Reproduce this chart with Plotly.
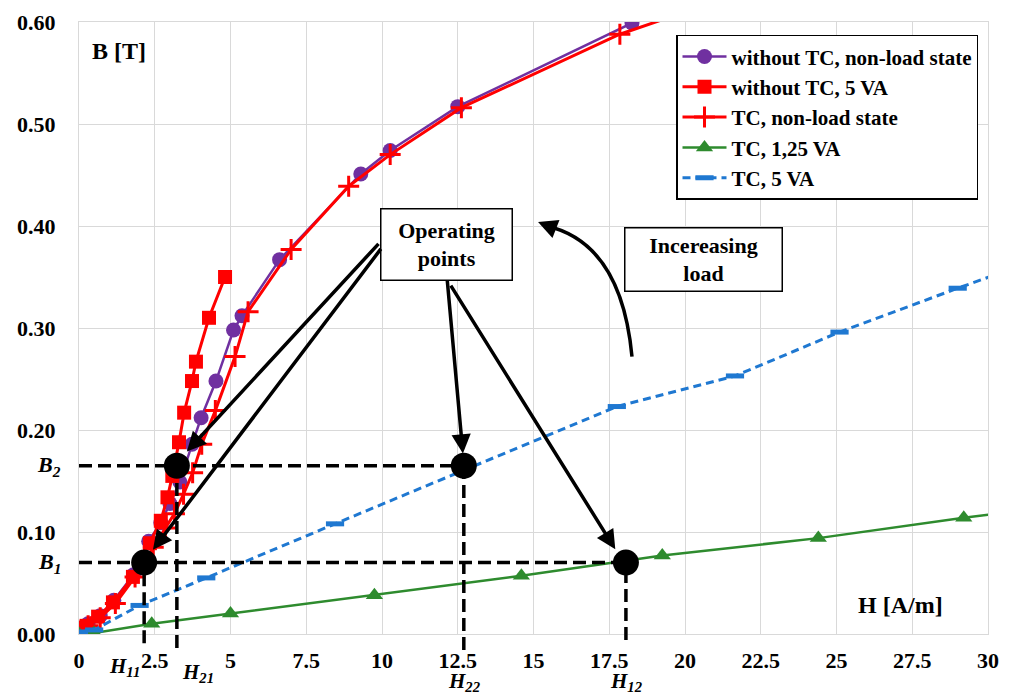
import plotly.graph_objects as go

# ---------------- data ----------------
H_noTC_noload = [0, 0.3, 0.7, 1.15, 1.8, 2.3, 2.7, 3.0, 3.33, 3.73, 4.03, 4.52, 5.1, 5.38, 6.62, 9.3, 10.27, 12.5, 18.25]
B_noTC_noload = [0.003, 0.010, 0.018, 0.033, 0.058, 0.091, 0.109, 0.128, 0.149, 0.186, 0.212, 0.248, 0.298, 0.312, 0.367, 0.451, 0.474, 0.517, 0.599]

H_noTC_5VA = [0, 0.25, 0.63, 1.12, 1.78, 2.34, 2.7, 2.92, 3.08, 3.3, 3.47, 3.73, 3.86, 4.29, 4.82]
B_noTC_5VA = [0.004, 0.008, 0.017, 0.031, 0.056, 0.089, 0.111, 0.134, 0.155, 0.188, 0.217, 0.248, 0.267, 0.31, 0.35]

H_TC_noload = [0, 0.3, 0.7, 1.2, 1.85, 2.45, 2.85, 3.15, 3.45, 3.75, 4.05, 4.5, 5.15, 5.58, 7.0, 8.9, 10.27, 12.62, 17.85, 21.0]
B_TC_noload = [0.003, 0.008, 0.016, 0.030, 0.056, 0.085, 0.104, 0.118, 0.137, 0.158, 0.186, 0.219, 0.272, 0.316, 0.377, 0.439, 0.470, 0.516, 0.588, 0.620]

H_TC_125VA = [0, 0.5, 2.4, 5.0, 9.75, 14.6, 19.25, 24.4, 29.2, 30.6]
B_TC_125VA = [0.0, 0.001, 0.010, 0.020, 0.038, 0.057, 0.077, 0.094, 0.114, 0.119]

H_TC_5VA = [0, 0.5, 2.0, 4.2, 8.45, 17.75, 21.65, 25.1, 29.0, 30.6]
B_TC_5VA = [0.002, 0.004, 0.028, 0.055, 0.108, 0.223, 0.253, 0.296, 0.339, 0.356]

# operating points: H11, H21, H22, H12
H_op = [2.15, 3.23, 12.7, 18.05]
B_op = [0.07, 0.165, 0.165, 0.07]
H_op_labels = ["H<sub>11</sub>", "H<sub>21</sub>", "H<sub>22</sub>", "H<sub>12</sub>"]
B_levels = [0.07, 0.165]
B_level_labels = ["B<sub>1</sub>", "B<sub>2</sub>"]

X_TICKS = [0, 2.5, 5, 7.5, 10, 12.5, 15, 17.5, 20, 22.5, 25, 27.5, 30]
X_TICK_TEXT = ["0", "2.5", "5", "7.5", "10", "12.5", "15", "17.5", "20", "22.5", "25", "27.5", "30"]
Y_TICKS = [0, 0.1, 0.2, 0.3, 0.4, 0.5, 0.6]
Y_TICK_TEXT = ["0.00", "0.10", "0.20", "0.30", "0.40", "0.50", "0.60"]

X_MAX = 30
Y_MAX = 0.6

SERIF = "Liberation Serif"
GRID = "#d9d9d9"

fig = go.Figure()

fig.add_trace(go.Scatter(
    x=H_noTC_noload, y=B_noTC_noload, name="without TC, non-load state",
    mode="lines+markers", line=dict(color="#7030A0", width=2.5),
    marker=dict(symbol="circle", size=15, color="#7030A0")))
fig.add_trace(go.Scatter(
    x=H_noTC_5VA, y=B_noTC_5VA, name="without TC, 5 VA",
    mode="lines+markers", line=dict(color="#FF0000", width=3),
    marker=dict(symbol="square", size=14, color="#FF0000")))
fig.add_trace(go.Scatter(
    x=H_TC_noload, y=B_TC_noload, name="TC, non-load state",
    mode="lines+markers", line=dict(color="#FF0000", width=3),
    marker=dict(symbol="cross-thin", size=15, color="#FF0000",
                line=dict(color="#FF0000", width=3))))
fig.add_trace(go.Scatter(
    x=H_TC_125VA, y=B_TC_125VA, name="TC, 1,25 VA",
    mode="lines+markers", line=dict(color="#2E8B2E", width=2.5),
    marker=dict(symbol="triangle-up", size=15, color="#2E8B2E")))
fig.add_trace(go.Scatter(
    x=H_TC_5VA, y=B_TC_5VA, name="TC, 5 VA",
    mode="lines+markers", line=dict(color="#1F78D1", width=3, dash="8px,5px"),
    marker=dict(symbol="line-ew", size=13, color="#1F78D1",
                line=dict(color="#1F78D1", width=5))))

shapes = []
dash_line = dict(color="black", width=3.5, dash="13px,6px")
# horizontal dashed lines from B axis to the far operating point of each level
for b in B_levels:
    h_far = max(h for h, bb in zip(H_op, B_op) if bb == b)
    shapes.append(dict(type="line", xref="x", yref="y", x0=0, x1=h_far, y0=b, y1=b,
                       line=dash_line, layer="above"))
# vertical dashed lines down below the H axis
v_bottom = [-0.015, -0.023, -0.026, -0.01]
for h, b, vb in zip(H_op, B_op, v_bottom):
    shapes.append(dict(type="line", xref="x", yref="paper", x0=h, x1=h,
                       y0=vb, y1=b / Y_MAX, line=dash_line, layer="above"))
# curved "increasing load" arrow body
shapes.append(dict(type="path", xref="x", yref="y",
                   path="M 18.25,0.272 Q 17.9,0.3826 15.45,0.4",
                   line=dict(color="black", width=3.5), layer="above"))

fig.add_trace(go.Scatter(
    x=H_op, y=B_op, mode="markers", showlegend=False, cliponaxis=False,
    marker=dict(symbol="circle", size=26, color="black")))

ann = []
txt_font = dict(family=SERIF, size=22, color="black", weight="bold")
ann.append(dict(xref="paper", yref="paper", x=0.012, y=0.952, xanchor="left", yanchor="middle",
                text="B [T]", showarrow=False, font=dict(family=SERIF, size=24, color="black", weight="bold")))
ann.append(dict(xref="x", yref="y", x=27.1, y=0.028, xanchor="center", yanchor="middle",
                text="H [A/m]", showarrow=False, font=dict(family=SERIF, size=24, color="black", weight="bold")))
ann.append(dict(xref="x", yref="y", x=12.12, y=0.382, xanchor="center", yanchor="middle",
                text="Operating<br>points", showarrow=False, font=txt_font,
                bordercolor="black", borderwidth=1.5, bgcolor="white",
                width=126, height=66, borderpad=2))
ann.append(dict(xref="x", yref="y", x=20.6, y=0.367, xanchor="center", yanchor="middle",
                text="Incereasing<br>load", showarrow=False, font=txt_font,
                bordercolor="black", borderwidth=1.5, bgcolor="white",
                width=152, height=58, borderpad=2))
# arrows from the "Operating points" box
arrow_tails = [(9.93, 0.384), (10.0, 0.379), (12.15, 0.348), (12.24, 0.343)]
arrow_tips = [(3.56, 0.179), (2.44, 0.0825), (12.67, 0.177), (17.7, 0.083)]
for (tx, ty), (hx, hy) in zip(arrow_tails, arrow_tips):
    ann.append(dict(xref="x", yref="y", axref="x", ayref="y", x=hx, y=hy, ax=tx, ay=ty,
                    text="", showarrow=True, arrowhead=2, arrowsize=1.1, arrowwidth=3.5,
                    arrowcolor="black", standoff=0))
# head of the curved arrow
ann.append(dict(xref="x", yref="y", axref="x", ayref="y", x=15.15, y=0.404, ax=15.75, ay=0.397,
                text="", showarrow=True, arrowhead=2, arrowsize=1.1, arrowwidth=3.5,
                arrowcolor="black", standoff=0))
# B level labels
for b, lab in zip(B_levels, B_level_labels):
    ann.append(dict(xref="paper", yref="y", x=-0.018, y=b, xanchor="right", yanchor="middle",
                    text="<i>" + lab + "</i>", showarrow=False,
                    font=dict(family=SERIF, size=22, color="black", weight="bold")))
# H labels
h_lab_pos = [("right", -2, -0.054), ("left", 3, -0.064), ("center", 0, -0.079), ("center", 0, -0.079)]
for h, lab, (anc, shift, yp) in zip(H_op, H_op_labels, h_lab_pos):
    ann.append(dict(xref="x", yref="paper", x=h, y=yp, xanchor=anc, yanchor="middle", xshift=shift,
                    text="<i>" + lab + "</i>", showarrow=False,
                    font=dict(family=SERIF, size=21, color="black", weight="bold")))

fig.update_layout(
    width=1005, height=689,
    margin=dict(l=71, r=25, t=14, b=63, autoexpand=False),
    paper_bgcolor="white", plot_bgcolor="white",
    shapes=shapes, annotations=ann,
    font=dict(family=SERIF, color="black"),
    legend=dict(x=0.989, y=0.979, xanchor="right", yanchor="top",
                bgcolor="white", bordercolor="black", borderwidth=1.5,
                font=dict(family=SERIF, size=21, color="black", weight="bold"),
                tracegroupgap=0, itemwidth=44),
    xaxis=dict(range=[0, X_MAX], tickmode="array", tickvals=X_TICKS, ticktext=X_TICK_TEXT,
               showgrid=True, gridcolor=GRID, gridwidth=1, zeroline=False, automargin=False,
               showline=True, linecolor=GRID, linewidth=1, mirror=True, ticks="",
               ticklabelstandoff=7,
               tickfont=dict(family=SERIF, size=22, color="black", weight="bold")),
    yaxis=dict(range=[0, Y_MAX], tickmode="array", tickvals=Y_TICKS, ticktext=Y_TICK_TEXT,
               showgrid=True, gridcolor=GRID, gridwidth=1, zeroline=False, automargin=False,
               showline=True, linecolor=GRID, linewidth=1, mirror=True, ticks="",
               ticklabelstandoff=18,
               tickfont=dict(family=SERIF, size=22, color="black", weight="bold")),
)

fig.write_html("out.html")
